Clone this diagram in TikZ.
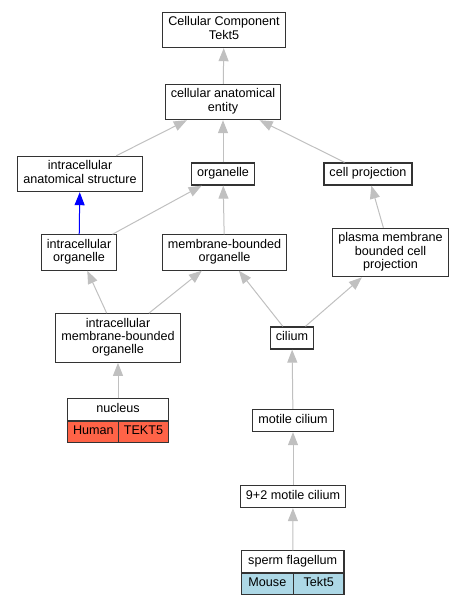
\documentclass[tikz,border=0pt]{standalone}
\usepackage{fontspec}
\setmainfont{Liberation Sans}
\usetikzlibrary{positioning,arrows.meta}

\definecolor{edgegray}{RGB}{192,192,192}
\definecolor{tomato}{RGB}{255,99,71}
\definecolor{lightblue}{RGB}{173,216,230}

\begin{document}
\begin{tikzpicture}[
  x=1pt, y=-1pt,
  every node/.style={font=\fontsize{12.6}{13.3}\selectfont},
  term/.style={draw=black!80, line width=1.2pt, fill=white,
               inner xsep=5.5pt, inner ysep=4.4pt, align=center,
               execute at begin node=\strut, execute at end node=\strut},
  head/.style={term, minimum height=22.7pt, outer sep=0pt},
  cell/.style={draw=black!80, line width=1.2pt, inner sep=0pt, outer sep=0pt,
               minimum height=21.7pt, execute at begin node=\strut},
  isa/.style ={-{Triangle[length=13pt,width=10pt]}, draw=edgegray, line width=1pt},
  part/.style={-{Triangle[length=13pt,width=10pt]}, draw=blue, line width=1pt}
]
\useasboundingbox (0,0) rectangle (465,605);

%% --- Top levels ----------------------------------------------
\node[term] (cc)  at (224,30)  {Cellular Component\\Tekt5};
\node[term] (cae) at (223,102) {cellular anatomical\\entity};

\node[term] (ias)   at (80,174)  {intracellular\\anatomical structure};
\node[term] (org)   at (223,174) {organelle};
\node[term] (cproj) at (368,174) {cell projection};

%% --- Middle --------------------------------------------------
\node[term] (iorg)  at (79,252.5)  {intracellular\\organelle};
\node[term] (mborg) at (224.5,252.5) {membrane-bounded\\organelle};
\node[term] (pmbcp) at (390.5,252.5) {plasma membrane\\bounded cell\\projection};

\node[term] (imborg) at (118,338) {intracellular\\membrane-bounded\\organelle};
\node[term] (cil)    at (292,338) {cilium};

%% --- Cilium chain --------------------------------------------
\node[term] (mcil)  at (293,420.5) {motile cilium};
\node[term] (ncil)  at (293,496.5) {9+2 motile cilium};

%% --- Annotated terms -----------------------------------------
\node[head, minimum width=100.3pt] (nuc) at (118,409.7) {nucleus};
\node[cell, fill=tomato, minimum width=51pt,
      below right=0pt and 0pt of nuc.south west] (nucsp) {Human};
\node[cell, fill=tomato, minimum width=49.3pt,
      right=0pt of nucsp] (nucgene) {TEKT5};

\node[head, minimum width=102.7pt] (sperm) at (292.7,561.7) {sperm flagellum};
\node[cell, fill=lightblue, minimum width=52pt,
      below right=0pt and 0pt of sperm.south west] (spermsp) {Mouse};
\node[cell, fill=lightblue, minimum width=50.7pt,
      right=0pt of spermsp] (spermgene) {Tekt5};

%% --- Edges ---------------------------------------------------
\draw[isa] (cae) -- (cc);
\draw[isa] (ias) -- (cae);
\draw[isa] (org) -- (cae);
\draw[isa] (cproj) -- (cae);
\draw[part] (iorg) -- (ias);
\draw[isa] (iorg) -- (org);
\draw[isa] (mborg) -- (org);
\draw[isa] (pmbcp) -- (cproj);
\draw[isa] (imborg) -- (iorg);
\draw[isa] (imborg) -- (mborg);
\draw[isa] (cil) -- (mborg);
\draw[isa] (cil) -- (pmbcp);
\draw[isa] (nuc) -- (imborg);
\draw[isa] (mcil) -- (cil);
\draw[isa] (ncil) -- (mcil);
\draw[isa] (sperm) -- (ncil);

\end{tikzpicture}
\end{document}
